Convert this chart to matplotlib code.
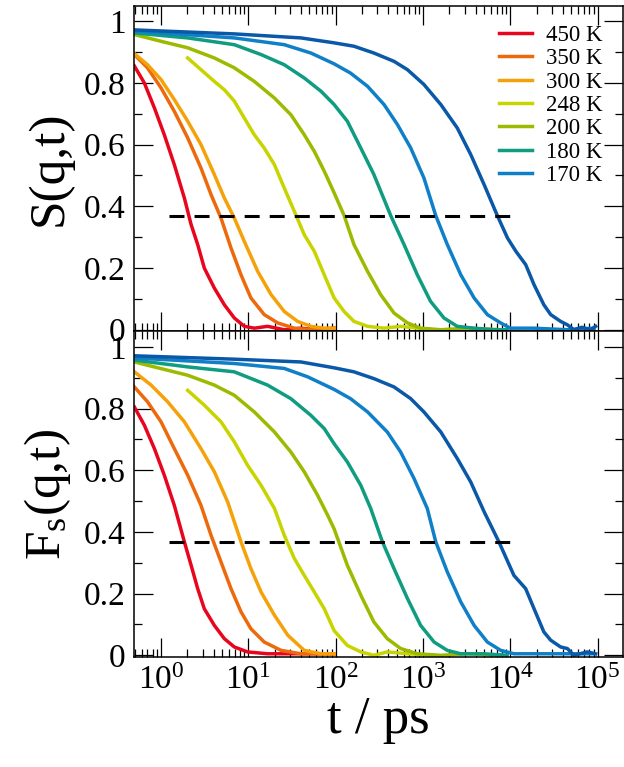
import numpy as np
import matplotlib
matplotlib.use("Agg")
import matplotlib.pyplot as plt
from matplotlib.ticker import LogLocator, MultipleLocator, FuncFormatter, NullFormatter

# Times-like fonts everywhere, including the 10^n tick labels and subscripts
plt.rcParams['font.family'] = ['Liberation Serif', 'DejaVu Serif']
plt.rcParams['mathtext.fontset'] = 'custom'
plt.rcParams['mathtext.rm'] = 'Liberation Serif'
plt.rcParams['mathtext.it'] = 'Liberation Serif:italic'
plt.rcParams['mathtext.bf'] = 'Liberation Serif:bold'

# temperatures and line colours (last curve is not in the legend)
labels = ['450 K', '350 K', '300 K', '248 K', '200 K', '180 K', '170 K', None]
colors = ['#e8061e', '#ec6a0c', '#f5a20a', '#c8d400', '#9cba00', '#0f9c80', '#0f80c8', '#0a58a8']

# ---- coherent scattering function S(q,t): time (ps) / value ----
s_t_450 = [0.495, 0.644, 0.84, 1.09, 1.42, 1.85, 2.21, 2.63, 3.13, 4.08, 5.31, 6.91, 9.0, 11.7, 16.6, 25.8, 40, 57, 96]
s_v_450 = [0.855, 0.80, 0.719, 0.632, 0.535, 0.427, 0.341, 0.276, 0.20, 0.135, 0.081, 0.038, 0.011, 0.005, 0.011, 0.0, 0.005, 0.0, 0.005]
s_t_350 = [0.495, 0.70, 1.0, 1.42, 2.02, 2.87, 3.74, 4.86, 6.33, 8.24, 10.7, 15.2, 21.7, 33.6, 52, 96]
s_v_350 = [0.892, 0.849, 0.784, 0.708, 0.622, 0.524, 0.438, 0.362, 0.265, 0.178, 0.103, 0.049, 0.022, 0.005, 0.0, 0.0]
s_t_300 = [0.495, 0.70, 1.0, 1.42, 2.02, 2.87, 4.08, 5.31, 6.91, 9.0, 12.8, 18.2, 25.8, 36.7, 52, 74, 96]
s_v_300 = [0.895, 0.859, 0.811, 0.746, 0.676, 0.60, 0.503, 0.427, 0.362, 0.286, 0.189, 0.114, 0.059, 0.027, 0.011, 0.005, 0.005]
s_t_248 = [2.02, 2.87, 4.08, 5.31, 6.91, 9.0, 11.7, 15.2, 19.9, 25.8, 33.6, 43.7, 57, 74, 96, 125, 162, 232, 358, 555, 861, 1340]
s_v_248 = [0.881, 0.843, 0.805, 0.778, 0.741, 0.686, 0.632, 0.589, 0.535, 0.459, 0.384, 0.308, 0.254, 0.178, 0.103, 0.059, 0.027, 0.011, 0.005, 0.011, 0.005, 0.0]
s_t_200 = [0.495, 1.0, 2.02, 4.08, 6.91, 11.7, 19.9, 30.7, 43.7, 57, 74, 96, 125, 162, 232, 327, 466, 664, 940, 1600, 3240, 7760]
s_v_200 = [0.957, 0.935, 0.914, 0.881, 0.849, 0.805, 0.751, 0.697, 0.632, 0.578, 0.514, 0.444, 0.37, 0.276, 0.189, 0.114, 0.054, 0.022, 0.005, 0.0, 0.005, 0.0]
s_t_180 = [0.495, 2.02, 6.91, 14, 25.8, 43.7, 68, 96, 136, 194, 274, 427, 607, 861, 1220, 1740, 2470, 3830, 6500, 9200]
s_v_180 = [0.962, 0.946, 0.924, 0.892, 0.859, 0.816, 0.773, 0.73, 0.676, 0.589, 0.503, 0.37, 0.276, 0.178, 0.092, 0.038, 0.011, 0.005, 0.0, 0.0]
s_t_170 = [0.495, 6.91, 25.8, 52, 96, 148, 232, 358, 510, 724, 1025, 1400, 1900, 2710, 3850, 5460, 7760, 10000, 18600, 45000, 91000]
s_v_170 = [0.968, 0.946, 0.924, 0.897, 0.862, 0.832, 0.789, 0.73, 0.665, 0.589, 0.492, 0.37, 0.276, 0.178, 0.103, 0.049, 0.022, 0.005, 0.005, 0.0, 0.005]
s_t_160 = [0.495, 6.91, 40, 96, 162, 274, 466, 664, 1025, 1600, 2470, 3520, 5020, 7100, 9300, 11600, 15000,
           18700, 24200, 29000, 37700, 45000, 53500, 66000, 83000, 95000]
s_v_160 = [0.972, 0.959, 0.946, 0.93, 0.919, 0.897, 0.87, 0.843, 0.795, 0.73, 0.654, 0.568, 0.47, 0.37, 0.297, 0.254, 0.211,
           0.146, 0.081, 0.049, 0.027, 0.016, 0.0, 0.008, 0.0, 0.011]

# ---- self intermediate scattering function Fs(q,t) ----
f_t_450 = [0.495, 0.644, 0.84, 1.09, 1.42, 1.85, 2.21, 2.63, 3.13, 4.08, 5.31, 6.91, 9.8, 16.6, 40, 96]
f_v_450 = [0.805, 0.746, 0.67, 0.584, 0.486, 0.368, 0.292, 0.216, 0.151, 0.097, 0.054, 0.027, 0.011, 0.005, 0.005, 0.005]
f_t_350 = [0.495, 0.70, 1.0, 1.42, 2.02, 2.87, 3.74, 4.86, 6.33, 8.24, 10.7, 15.2, 23.7, 40, 96]
f_v_350 = [0.87, 0.822, 0.757, 0.67, 0.584, 0.486, 0.389, 0.303, 0.216, 0.141, 0.086, 0.043, 0.016, 0.005, 0.005]
f_t_300 = [0.495, 0.77, 1.19, 1.85, 2.87, 4.08, 5.8, 8.24, 10.7, 14, 19.9, 28.3, 43.7, 68, 96]
f_v_300 = [0.919, 0.876, 0.822, 0.757, 0.67, 0.595, 0.497, 0.368, 0.281, 0.205, 0.13, 0.065, 0.016, 0.005, 0.005]
f_t_248 = [2.02, 3.13, 4.86, 6.91, 9.8, 14, 19.9, 25.8, 33.6, 43.7, 57, 74, 96, 136, 194, 274, 390, 664, 1340]
f_v_248 = [0.859, 0.811, 0.757, 0.692, 0.616, 0.551, 0.476, 0.389, 0.314, 0.259, 0.205, 0.151, 0.08, 0.032, 0.011, 0.0, 0.011, 0.005, 0.0]
f_t_200 = [0.495, 2.02, 4.08, 6.91, 11.7, 19.9, 30.7, 43.7, 62, 81, 96, 136, 194, 274, 390, 555, 861, 1600, 3240, 7760]
f_v_200 = [0.951, 0.908, 0.876, 0.843, 0.789, 0.724, 0.659, 0.595, 0.519, 0.454, 0.41, 0.292, 0.195, 0.108, 0.054, 0.022, 0.005, 0.0, 0.005, 0.0]
f_t_180 = [0.495, 2.02, 6.91, 16.6, 30.7, 52, 74, 96, 136, 194, 252, 343, 466, 664, 940, 1340, 1900, 2710, 5000, 9200]
f_v_180 = [0.957, 0.935, 0.919, 0.876, 0.832, 0.778, 0.735, 0.686, 0.627, 0.551, 0.476, 0.368, 0.281, 0.184, 0.097, 0.043, 0.016, 0.005, 0.005, 0.0]
f_t_170 = [0.495, 6.91, 25.8, 47.6, 96, 148, 232, 390, 555, 790, 1120, 1400, 1900, 2710, 3850, 5460, 7760, 11000, 29000, 91000]
f_v_170 = [0.964, 0.946, 0.93, 0.903, 0.862, 0.832, 0.789, 0.724, 0.659, 0.573, 0.476, 0.368, 0.27, 0.173, 0.097, 0.043, 0.016, 0.005, 0.005, 0.005]
f_t_160 = [0.495, 6.91, 40, 96, 162, 274, 466, 724, 1025, 1600, 2470, 3520, 5020, 7400, 11000, 15000, 18700,
           24200, 29000, 37700, 45000, 53500, 76000, 95000]
f_v_160 = [0.971, 0.96, 0.951, 0.932, 0.919, 0.897, 0.87, 0.832, 0.789, 0.724, 0.638, 0.562, 0.465, 0.368, 0.259, 0.216, 0.151,
           0.076, 0.049, 0.027, 0.022, 0.0, 0.011, 0.005]

# 1/e guide line
e_t = [1.25, 1.25e4]
e_v = [0.368, 0.368]

s_curves = [(s_t_450, s_v_450), (s_t_350, s_v_350), (s_t_300, s_v_300), (s_t_248, s_v_248),
            (s_t_200, s_v_200), (s_t_180, s_v_180), (s_t_170, s_v_170), (s_t_160, s_v_160)]
f_curves = [(f_t_450, f_v_450), (f_t_350, f_v_350), (f_t_300, f_v_300), (f_t_248, f_v_248),
            (f_t_200, f_v_200), (f_t_180, f_v_180), (f_t_170, f_v_170), (f_t_160, f_v_160)]


def style_axis(ax):
    ax.set_xscale('log')
    ax.set_xlim(0.49, 1.93e5)
    ax.set_ylim(-0.0055, 1.05)
    ax.xaxis.set_major_locator(LogLocator(base=10, numticks=20))
    ax.xaxis.set_minor_locator(LogLocator(base=10, subs=np.arange(2, 10), numticks=20))
    ax.xaxis.set_minor_formatter(NullFormatter())
    ax.yaxis.set_major_locator(MultipleLocator(0.2))
    ax.yaxis.set_minor_locator(MultipleLocator(0.1))
    ax.yaxis.set_major_formatter(FuncFormatter(lambda v, p: '%g' % round(v, 2)))
    ax.tick_params(which='both', direction='in', top=True, right=True, width=0.9)
    ax.tick_params(which='major', length=14, labelsize=24, pad=6)
    ax.tick_params(which='minor', length=6)
    for sp in ax.spines.values():
        sp.set_linewidth(1.1)


def draw_panel(ax, curves):
    for (t, v), c, lab in zip(curves, colors, labels):
        ax.plot(t, v, color=c, lw=2.5, label=lab, solid_joinstyle='round')
    ax.plot(e_t, e_v, color='black', lw=2.2, dashes=(4.9, 3.3))
    style_axis(ax)


fig = plt.figure(figsize=(6.24, 7.67), dpi=100)
ax_s = fig.add_axes([0.2147, 0.5679, 0.783, 0.4245])
ax_f = fig.add_axes([0.2147, 0.1434, 0.783, 0.4245])

draw_panel(ax_s, s_curves)
draw_panel(ax_f, f_curves)

ax_s.tick_params(axis='x', labelbottom=False)
ax_s.set_ylabel('S(q,t)', fontsize=37, labelpad=8)
ax_f.set_ylabel(r'F$_{\rm s}$(q,t)', fontsize=37, labelpad=8)
ax_f.set_xlabel('t / ps', fontsize=38, labelpad=0)

handles, labs = ax_s.get_legend_handles_labels()
ax_s.legend(handles, labs, loc='upper left', bbox_to_anchor=(499 / 624, 742 / 767),
            bbox_transform=fig.transFigure, frameon=False, fontsize=16.5,
            handlelength=1.45, handletextpad=0.62, labelspacing=0.1,
            borderpad=0, borderaxespad=0)

fig.savefig('out.png', dpi=100)
